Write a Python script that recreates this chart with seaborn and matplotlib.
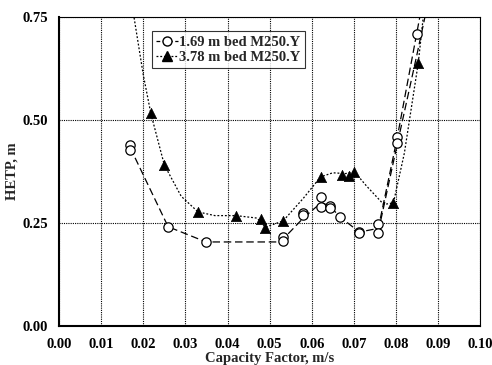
import matplotlib
matplotlib.use("Agg")
import matplotlib.pyplot as plt
from matplotlib.ticker import MultipleLocator
from matplotlib.lines import Line2D
import seaborn as sns
import pandas as pd

# measured points, 1.69 m bed
cf_short = [0.0169, 0.0169, 0.0259, 0.0349, 0.0532, 0.0532, 0.0580, 0.0580, 0.0623, 0.0623,
            0.0644, 0.0644, 0.0667, 0.0713, 0.0713, 0.0758, 0.0758, 0.0802, 0.0802, 0.0849]
hetp_short = [0.439, 0.427, 0.241, 0.204, 0.215, 0.206, 0.275, 0.269, 0.314, 0.290,
              0.291, 0.287, 0.265, 0.229, 0.225, 0.247, 0.226, 0.458, 0.445, 0.709]

# measured points, 3.78 m bed
cf_long = [0.0218, 0.0250, 0.0330, 0.0420, 0.0479, 0.0490, 0.0532, 0.0621, 0.0671, 0.0689,
           0.0701, 0.0794, 0.0853]
hetp_long = [0.516, 0.391, 0.277, 0.268, 0.259, 0.237, 0.255, 0.362, 0.366, 0.365,
             0.375, 0.299, 0.639]

# hand drawn trend curves
trend_short_x = [0.0169, 0.0259, 0.0349, 0.0400, 0.0521, 0.0532, 0.0580, 0.0623, 0.0644,
                 0.0667, 0.0713, 0.0758, 0.0802, 0.0849, 0.0862]
trend_short_y = [0.433, 0.241, 0.204, 0.204, 0.204, 0.211, 0.262, 0.300, 0.290,
                 0.265, 0.228, 0.237, 0.452, 0.709, 0.780]
trend_short2_x = [0.0764, 0.0790, 0.0820, 0.0850, 0.0875]
trend_short2_y = [0.257, 0.380, 0.520, 0.660, 0.780]
trend_long_x = [0.0172, 0.0178, 0.0200, 0.0218, 0.0250, 0.0290, 0.0330, 0.0370, 0.0420,
                0.0470, 0.0490, 0.0532, 0.0580, 0.0621, 0.0650, 0.0680, 0.0701, 0.0730,
                0.0771, 0.0794, 0.0820, 0.0853, 0.0868]
trend_long_y = [0.900, 0.750, 0.610, 0.516, 0.391, 0.315, 0.277, 0.268, 0.268,
                0.262, 0.240, 0.255, 0.310, 0.362, 0.372, 0.370, 0.375, 0.340,
                0.295, 0.299, 0.420, 0.639, 0.780]

sns.set_style("white")
plt.rcParams["font.family"] = ["Liberation Serif", "DejaVu Serif"]
plt.rcParams["font.weight"] = "bold"

fig = plt.figure(figsize=(4.92, 3.65), dpi=100)
ax = fig.add_axes([0.12, 0.107, 0.856, 0.846])

sns.lineplot(x=trend_short_x, y=trend_short_y, ax=ax, color="black", lw=0.9,
             linestyle=(0, (6, 3)), sort=False, estimator=None)
sns.lineplot(x=trend_short2_x, y=trend_short2_y, ax=ax, color="black", lw=0.9,
             linestyle=(0, (6, 3)), sort=False, estimator=None)
sns.lineplot(x=trend_long_x, y=trend_long_y, ax=ax, color="black", lw=0.9,
             linestyle=(0, (1.5, 1.5)), sort=False, estimator=None)

df_s = pd.DataFrame({"cf": cf_short, "hetp": hetp_short})
df_l = pd.DataFrame({"cf": cf_long, "hetp": hetp_long})
sns.scatterplot(data=df_s, x="cf", y="hetp", ax=ax, marker="o", s=45,
                facecolor="white", edgecolor="black", linewidth=0.9, zorder=5)
sns.scatterplot(data=df_l, x="cf", y="hetp", ax=ax, marker="^", s=55,
                color="black", edgecolor="black", linewidth=0.5, zorder=6)

ax.set_xlim(0, 0.10)
ax.set_ylim(0, 0.75)
ax.xaxis.set_major_locator(MultipleLocator(0.01))
ax.xaxis.set_minor_locator(MultipleLocator(0.005))
ax.yaxis.set_major_locator(MultipleLocator(0.25))
ax.yaxis.set_minor_locator(MultipleLocator(0.125))
ax.xaxis.set_major_formatter(plt.FuncFormatter(lambda v, p: f"{v:.2f}"))
ax.yaxis.set_major_formatter(plt.FuncFormatter(lambda v, p: f"{v:.2f}"))
ax.tick_params(which="both", direction="in", labelsize=10.5, colors="black")
ax.tick_params(which="major", length=4, width=0.8)
ax.tick_params(which="minor", length=3, width=0.8)
ax.tick_params(axis="x", pad=9)
ax.tick_params(axis="y", pad=8)
ax.grid(True, which="major", color="black", linestyle=(0, (1, 1)), lw=0.8)
for side in ["top", "right"]:
    ax.spines[side].set_linewidth(0.8)
for side in ["left", "bottom"]:
    ax.spines[side].set_linewidth(1.5)
for s in ax.spines.values():
    s.set_color("black")

ax.set_xlabel("Capacity Factor, m/s", fontsize=10.5, fontweight="bold", labelpad=0.5)
ax.set_ylabel("HETP, m", fontsize=10.5, fontweight="bold", labelpad=3)

handles = [
    Line2D([], [], color="black", lw=0.9, linestyle=(0, (3, 2)), marker="o",
           markerfacecolor="white", markeredgecolor="black", markersize=6.5),
    Line2D([], [], color="black", lw=0.9, linestyle=(0, (1.5, 1.5)), marker="^",
           markerfacecolor="black", markeredgecolor="black", markersize=6.5),
]
leg = ax.legend(handles, ["1.69 m bed M250.Y", "3.78 m bed M250.Y"],
                loc="upper left", bbox_to_anchor=(0.22, 0.955), frameon=True,
                fancybox=False, fontsize=10.5, handlelength=1.5, handletextpad=0.1,
                borderpad=0.3, labelspacing=0.15, borderaxespad=0)
leg.get_frame().set_edgecolor("black")
leg.get_frame().set_linewidth(0.8)
for t in leg.get_texts():
    t.set_fontweight("bold")

fig.savefig("out.png", dpi=100)
